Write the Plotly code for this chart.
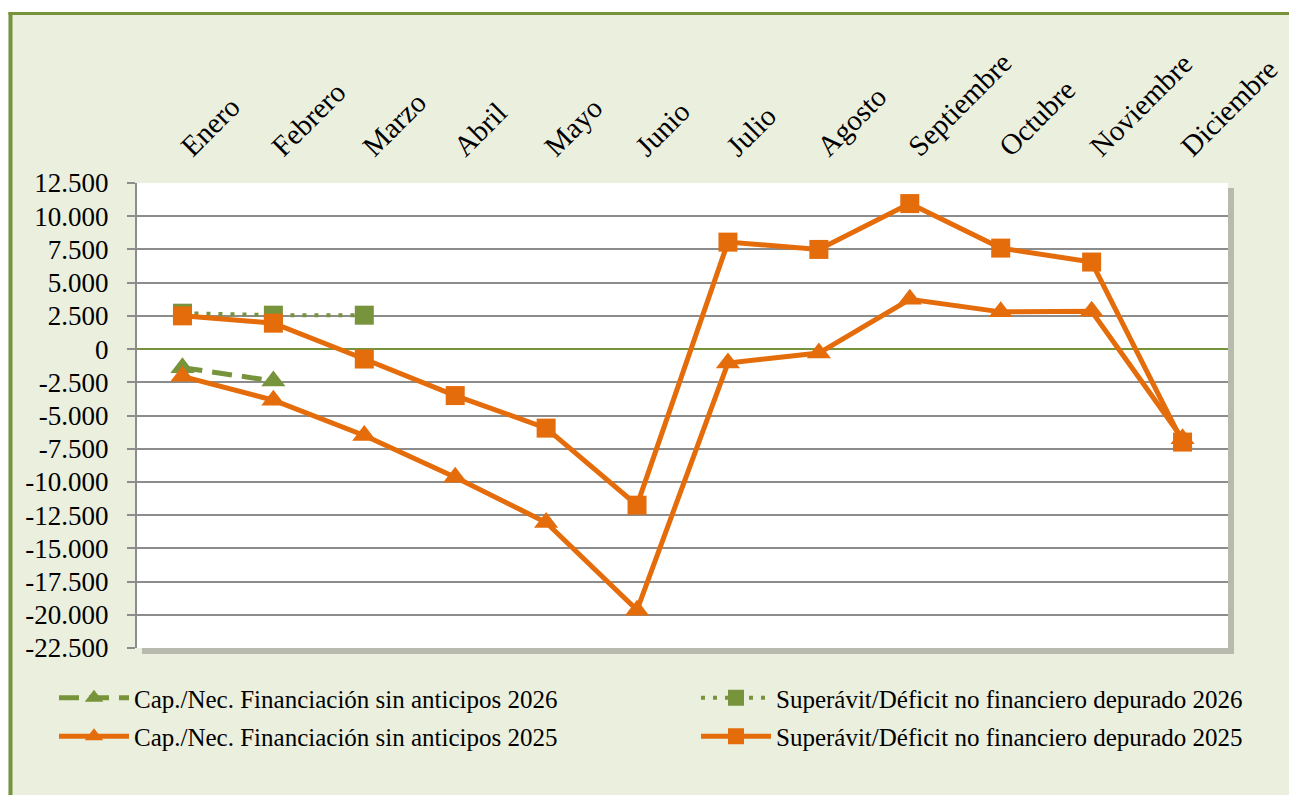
import plotly.graph_objects as go

months = ["Enero", "Febrero", "Marzo", "Abril", "Mayo", "Junio", "Julio",
          "Agosto", "Septiembre", "Octubre", "Noviembre", "Diciembre"]
cap_2026 = [-1400, -2400]
sup_2026 = [2700, 2550, 2550]
cap_2025 = [-2050, -3850, -6500, -9650, -13050, -19650, -1050, -300, 3750, 2800, 2850, -6750]
sup_2025 = [2500, 1950, -750, -3500, -5950, -11750, 8050, 7500, 10950, 7600, 6550, -7000]
y_ticks = [12500, 10000, 7500, 5000, 2500, 0, -2500, -5000, -7500, -10000,
           -12500, -15000, -17500, -20000, -22500]
y_tick_text = ["12.500", "10.000", "7.500", "5.000", "2.500", "0", "-2.500", "-5.000",
               "-7.500", "-10.000", "-12.500", "-15.000", "-17.500", "-20.000", "-22.500"]

names = ["Cap./Nec. Financiación sin anticipos 2026",
         "Superávit/Déficit no financiero depurado 2026",
         "Cap./Nec. Financiación sin anticipos 2025",
         "Superávit/Déficit no financiero depurado 2025"]

GREEN = "#77933C"
ORANGE = "#E46C0A"
FONT = "Liberation Serif, Times New Roman, serif"

W, H = 1289, 795
# plot area in page pixels: x 137..1228, y 183..648
L, T = 137, 183
R, B = W - 1228, H - 648
PW, PH = W - L - R, H - T - B


def px(x):  # page x -> paper fraction
    return (x - L) / PW


def py(y):  # page y -> paper fraction
    return (H - B - y) / PH


fig = go.Figure()
fig.add_trace(go.Scatter(x=months[:len(cap_2026)], y=cap_2026, name=names[0], mode="lines+markers",
                         line=dict(color=GREEN, width=5, dash="20px,10px"),
                         marker=dict(symbol="triangle-up", size=21, color=GREEN),
                         legend="legend", legendgroup="a"))
fig.add_trace(go.Scatter(x=months[:len(sup_2026)], y=sup_2026, name=names[1], mode="lines+markers",
                         line=dict(color=GREEN, width=4, dash="4px,8px"),
                         marker=dict(symbol="square", size=19, color=GREEN),
                         legend="legend2", legendgroup="b"))
fig.add_trace(go.Scatter(x=months, y=cap_2025, name=names[2], mode="lines+markers",
                         line=dict(color=ORANGE, width=5),
                         marker=dict(symbol="triangle-up", size=21, color=ORANGE),
                         legend="legend", legendgroup="c"))
fig.add_trace(go.Scatter(x=months, y=sup_2025, name=names[3], mode="lines+markers",
                         line=dict(color=ORANGE, width=5),
                         marker=dict(symbol="square", size=19, color=ORANGE),
                         legend="legend2", legendgroup="d"))

ymin, ymax = -22500, 12500
zero_pos = (0 - ymin) / (ymax - ymin)
bounds = [i - 0.5 for i in range(len(months) + 1)]

SH = "rgba(0,0,0,0.22)"
shapes = [
    # shadow of plot area (right and bottom strips)
    dict(type="rect", xref="paper", yref="paper", x0=px(1228), x1=px(1234),
         y0=py(654), y1=py(188), fillcolor=SH, line=dict(width=0), layer="below"),
    dict(type="rect", xref="paper", yref="paper", x0=px(142), x1=px(1228),
         y0=py(654), y1=py(648), fillcolor=SH, line=dict(width=0), layer="below"),
    # white strips outside the frame
    dict(type="rect", xref="paper", yref="paper", x0=px(0), x1=px(1300), y0=py(0), y1=py(12),
         fillcolor="white", line=dict(width=0), layer="above"),
    dict(type="rect", xref="paper", yref="paper", x0=px(0), x1=px(8.5), y0=py(0), y1=py(800),
         fillcolor="white", line=dict(width=0), layer="above"),
    # olive frame
    dict(type="line", xref="paper", yref="paper", x0=px(8.5), x1=px(1300), y0=py(13.5), y1=py(13.5),
         line=dict(color=GREEN, width=3), layer="above"),
    dict(type="line", xref="paper", yref="paper", x0=px(10.5), x1=px(10.5), y0=py(12), y1=py(805),
         line=dict(color=GREEN, width=4), layer="above"),
]

legend_common = dict(orientation="v", xanchor="left", yanchor="top",
                     xref="container", yref="container", bgcolor="rgba(0,0,0,0)",
                     font=dict(family=FONT, size=25, color="black"),
                     traceorder="grouped", tracegroupgap=3, itemwidth=70)

fig.update_layout(
    width=W, height=H,
    margin=dict(l=L, r=R, t=T, b=B, autoexpand=False),
    paper_bgcolor="#EBEFDE",
    plot_bgcolor="white",
    font=dict(family=FONT, size=26, color="black"),
    showlegend=True,
    legend=dict(x=54 / W, y=1 - 675 / H, **legend_common),
    legend2=dict(x=696 / W, y=1 - 675 / H, **legend_common),
    xaxis=dict(type="category", categoryorder="array", categoryarray=months,
               range=[-0.5, len(months) - 0.5], side="top", tickangle=-45,
               showgrid=False, showline=False, ticks="", ticklabelstandoff=14,
               tickfont=dict(family=FONT, size=29, color="black"), zeroline=False,
               automargin=False),
    xaxis2=dict(overlaying="x", anchor="free", position=zero_pos, side="bottom",
                range=[-0.5, len(months) - 0.5], tickvals=bounds, showticklabels=False,
                ticks="outside", ticklen=8, tickwidth=2, tickcolor=GREEN,
                showgrid=False, showline=False, zeroline=False, automargin=False),
    yaxis=dict(range=[ymin, ymax], tickvals=y_ticks, ticktext=y_tick_text,
               showgrid=True, gridcolor="#8C8C8C", gridwidth=2,
               showline=True, linecolor="#8C8C8C", linewidth=2,
               ticks="outside", ticklen=8, tickwidth=2, tickcolor="#8C8C8C",
               ticklabelstandoff=13,
               zeroline=True, zerolinecolor=GREEN, zerolinewidth=2, automargin=False,
               tickfont=dict(family=FONT, size=27, color="black")),
    shapes=shapes,
)

fig.write_html(
    "out.html",
    config={"displayModeBar": False},
    post_script="document.body.style.margin='0';document.body.style.overflow='hidden';",
)
